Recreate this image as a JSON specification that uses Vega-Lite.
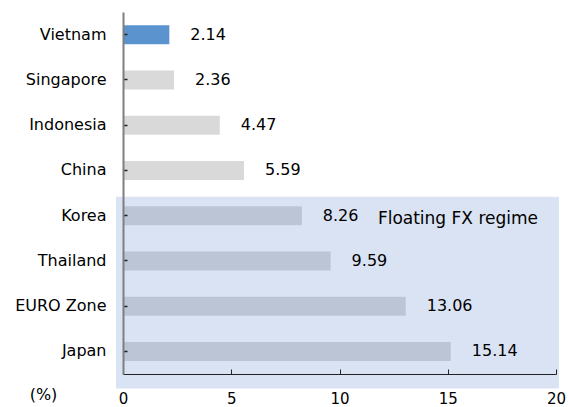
{
  "$schema": "https://vega.github.io/schema/vega-lite/v6.json",
  "autosize": "none",
  "width": 433,
  "height": 362,
  "padding": {"left": 123, "top": 12, "right": 12, "bottom": 33},
  "background": "#ffffff",
  "config": {
    "view": {"stroke": null},
    "font": "DejaVu Sans",
    "text": {"font": "DejaVu Sans", "fontSize": 16, "color": "#000000"}
  },
  "data": {
    "values": [
      {"country": "Vietnam", "value": 2.14, "regime": "Managed"},
      {"country": "Singapore", "value": 2.36, "regime": "Managed"},
      {"country": "Indonesia", "value": 4.47, "regime": "Managed"},
      {"country": "China", "value": 5.59, "regime": "Managed"},
      {"country": "Korea", "value": 8.26, "regime": "Floating"},
      {"country": "Thailand", "value": 9.59, "regime": "Floating"},
      {"country": "EURO Zone", "value": 13.06, "regime": "Floating"},
      {"country": "Japan", "value": 15.14, "regime": "Floating"}
    ]
  },
  "encoding": {
    "y": {
      "field": "country",
      "type": "nominal",
      "sort": null,
      "scale": {
        "domain": ["Vietnam", "Singapore", "Indonesia", "China", "Korea", "Thailand", "EURO Zone", "Japan"],
        "paddingInner": 0,
        "paddingOuter": 0
      },
      "axis": {
        "title": null,
        "zindex": 1,
        "labelFontSize": 16,
        "labelFont": "DejaVu Sans",
        "labelColor": "#000000",
        "labelPadding": 21,
        "tickSize": -4,
        "tickColor": "#222222",
        "tickWidth": 1.5,
        "domainColor": "#7f7f7f",
        "domainWidth": 2,
        "grid": false
      }
    }
  },
  "layer": [
    {
      "data": {"values": [{"regime": "Floating"}]},
      "mark": {"type": "rect", "color": "#dae3f3", "xOffset": -7, "x2Offset": 3, "yOffset": -19, "y2Offset": 37},
      "encoding": {
        "x": {"datum": 0, "type": "quantitative"},
        "x2": {"datum": 20},
        "y": {"datum": "Korea", "type": "nominal", "bandPosition": 0.5},
        "y2": {"datum": "Japan", "bandPosition": 0.5}
      }
    },
    {
      "mark": {"type": "bar", "size": 19},
      "encoding": {
        "x": {
          "field": "value",
          "type": "quantitative",
          "scale": {"domain": [0, 20], "nice": false},
          "axis": {
            "title": "(%)",
            "zindex": 1,
            "titleFont": "DejaVu Sans",
            "titleFontSize": 16,
            "titleFontWeight": "normal",
            "titleColor": "#000000",
            "titleX": -80,
            "titleY": 20,
            "titleAlign": "center",
            "titleBaseline": "middle",
            "values": [0, 5, 10, 15, 20],
            "labelFontSize": 15,
            "labelFont": "DejaVu Sans",
            "labelColor": "#000000",
            "labelPadding": 22,
            "labelFlush": false,
            "tickSize": -5,
            "tickColor": "#222222",
            "domainColor": "#222222",
            "grid": false
          }
        },
        "color": {
          "condition": {"test": "datum.country === 'Vietnam'", "value": "#5b93cf"},
          "field": "regime",
          "type": "nominal",
          "scale": {"domain": ["Managed", "Floating"], "range": ["#d9d9d9", "#bcc5d6"]},
          "legend": null
        }
      }
    },
    {
      "mark": {"type": "text", "align": "left", "baseline": "middle", "dx": 21},
      "encoding": {
        "x": {"field": "value", "type": "quantitative"},
        "text": {"field": "value", "type": "quantitative", "format": ".2f"}
      }
    },
    {
      "data": {"values": [{"label": "Floating FX regime"}]},
      "mark": {"type": "text", "align": "right", "baseline": "middle", "dx": -18, "dy": 3, "fontSize": 17},
      "encoding": {
        "x": {"datum": 20, "type": "quantitative"},
        "y": {"datum": "Korea", "type": "nominal"},
        "text": {"field": "label", "type": "nominal"}
      }
    }
  ]
}
